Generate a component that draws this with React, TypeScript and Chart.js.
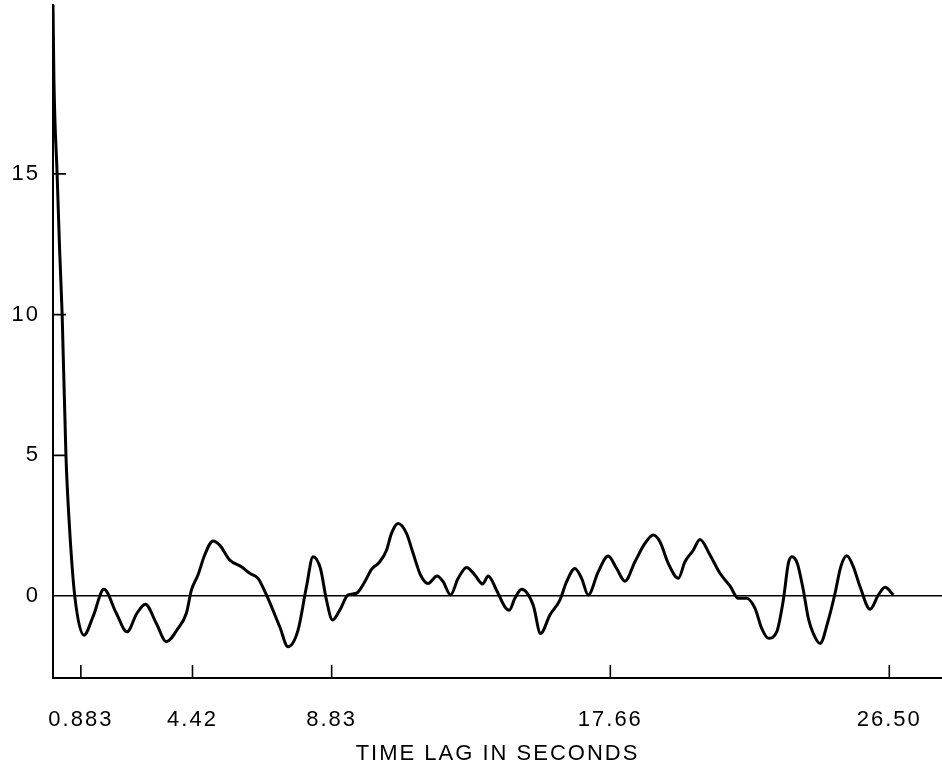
import React, { useEffect, useRef } from "react";
import { Chart, registerables } from "chart.js";

Chart.register(...registerables);

// Time lag in seconds (x) and autocorrelation value (y)
const lagSeconds = [
  0, 0.03, 0.13, 0.21, 0.29, 0.41, 0.52, 0.69, 0.98, 1.265, 1.614, 2.007, 2.343, 2.66, 2.926,
  3.275, 3.592, 3.96, 4.226, 4.385, 4.594, 4.807, 5.07, 5.282, 5.599, 5.97, 6.233, 6.497,
  6.763, 7.185, 7.448, 7.765, 8.031, 8.24, 8.475, 8.665, 8.856, 9.087, 9.35, 9.616, 9.88,
  10.092, 10.355, 10.568, 10.726, 10.935, 11.202, 11.411, 11.646, 11.887, 12.172, 12.362,
  12.597, 12.838, 13.104, 13.367, 13.611, 13.789, 14.055, 14.318, 14.455, 14.636, 14.848,
  15.216, 15.45, 15.745, 16.062, 16.275, 16.538, 16.75, 16.96, 17.276, 17.593, 17.86,
  18.123, 18.44, 18.757, 19.02, 19.233, 19.496, 19.813, 20.025, 20.288, 20.501, 20.818,
  21.135, 21.452, 21.715, 21.982, 22.245, 22.457, 22.667, 22.933, 23.142, 23.301, 23.409,
  23.586, 23.776, 23.935, 24.093, 24.306, 24.569, 24.781, 24.962, 25.152, 25.362, 25.574,
  25.891, 26.154, 26.366, 26.629,
];
const correlation = [
  21.0, 18.3, 15.0, 12.3, 10.0, 5.0, 2.5, 0.0, -1.39, -0.74, 0.24, -0.61, -1.27, -0.61, -0.29,
  -0.97, -1.62, -1.15, -0.61, 0.21, 0.75, 1.46, 1.96, 1.81, 1.28, 1.04, 0.81, 0.63,
  0.04, -1.09, -1.8, -1.21, 0.33, 1.4, 0.98, -0.14, -0.85, -0.5, 0.04, 0.1, 0.51,
  0.95, 1.22, 1.63, 2.23, 2.58, 2.23, 1.52, 0.75, 0.45, 0.71, 0.51,
  0.04, 0.63, 1.02, 0.75, 0.43, 0.71, 0.21, -0.38, -0.5, -0.08, 0.24,
  -0.32, -1.33, -0.67, -0.14, 0.51, 0.98, 0.63, 0.04, 0.86, 1.42, 0.98,
  0.53, 1.22, 1.87, 2.17, 1.93, 1.16, 0.63, 1.22, 1.63, 2.01, 1.46,
  0.81, 0.36, -0.08, -0.08, -0.44, -1.15, -1.5, -1.27, -0.14, 1.16, 1.4,
  1.16, 0.21, -0.79, -1.33, -1.68, -0.85, 0.1, 1.04, 1.43, 1.04, 0.33,
  -0.47, 0.04, 0.31, 0.04,
];

const xTickValues = [0.883, 4.42, 8.83, 17.66, 26.5];
const xTickLabels = ["0.883", "4.42", "8.83", "17.66", "26.50"];
const yTickValues = [0, 5, 10, 15];
const yTickLabels = ["0", "5", "10", "15"];
const xAxisTitle = "TIME LAG IN SECONDS";

const FONT = "'Liberation Sans', Arial, sans-serif";

const letterSpacingPlugin = {
  id: "letterSpacing",
  beforeDraw(chart: any) {
    chart.ctx.letterSpacing = "2px";
  },
};

const innerTicksPlugin = {
  id: "innerTicks",
  afterDatasetsDraw(chart: any) {
    const { ctx, chartArea, scales } = chart;
    ctx.save();
    ctx.strokeStyle = "#000";
    ctx.lineWidth = 1.6;
    ctx.beginPath();
    xTickValues.forEach((v) => {
      const px = scales.x.getPixelForValue(v);
      ctx.moveTo(px, chartArea.bottom);
      ctx.lineTo(px, chartArea.bottom - 13);
    });
    yTickValues.forEach((v) => {
      if (v === 0) return;
      const py = scales.y.getPixelForValue(v);
      ctx.moveTo(chartArea.left, py);
      ctx.lineTo(chartArea.left + 13, py);
    });
    ctx.stroke();
    ctx.restore();
  },
};

export default function App() {
  const canvasRef = useRef<HTMLCanvasElement | null>(null);

  useEffect(() => {
    if (!canvasRef.current) return;
    const chart = new Chart(canvasRef.current, {
      type: "line",
      data: {
        datasets: [
          {
            data: lagSeconds.map((x, i) => ({ x, y: correlation[i] })),
            borderColor: "#000",
            borderWidth: 3,
            pointRadius: 0,
            fill: false,
            cubicInterpolationMode: "monotone",
          },
        ],
      },
      options: {
        responsive: false,
        animation: false,
        layout: { padding: { top: 5, left: 0, right: 0, bottom: 0 } },
        plugins: { legend: { display: false }, tooltip: { enabled: false } },
        scales: {
          x: {
            type: "linear",
            min: 0,
            max: 28.17,
            afterBuildTicks: (s: any) => {
              s.ticks = xTickValues.map((v) => ({ value: v }));
            },
            afterFit: (s: any) => {
              s.height = 89;
              s.paddingLeft = 0;
              s.paddingRight = 0;
            },
            ticks: {
              autoSkip: false,
              maxRotation: 0,
              padding: 29,
              color: "#000",
              font: { family: FONT, size: 22 },
              callback: (v: any) => xTickLabels[xTickValues.indexOf(Number(v))] ?? "",
            },
            grid: { display: false, drawTicks: false },
            border: { display: true, color: "#000", width: 2 },
            title: {
              display: true,
              text: xAxisTitle,
              color: "#000",
              font: { family: FONT, size: 22 },
              padding: { top: 0, bottom: 0 },
            },
          },
          y: {
            type: "linear",
            min: -2.91,
            max: 21,
            afterBuildTicks: (s: any) => {
              s.ticks = yTickValues.map((v) => ({ value: v }));
            },
            afterFit: (s: any) => {
              s.width = 53;
              s.paddingTop = 0;
              s.paddingBottom = 0;
            },
            ticks: {
              padding: 13,
              color: "#000",
              font: { family: FONT, size: 22 },
              callback: (v: any) => yTickLabels[yTickValues.indexOf(Number(v))] ?? "",
            },
            grid: {
              drawTicks: false,
              lineWidth: 1.5,
              color: (ctx: any) =>
                ctx.tick && ctx.tick.value === 0 ? "#000" : "rgba(0,0,0,0)",
            },
            border: { display: true, color: "#000", width: 2 },
          },
        },
      },
      plugins: [letterSpacingPlugin, innerTicksPlugin],
    } as any);
    return () => chart.destroy();
  }, []);

  return (
    <div
      style={{
        position: "absolute",
        left: 0,
        top: 0,
        width: 942,
        height: 767,
        background: "#fff",
      }}
    >
      <canvas ref={canvasRef} width={942} height={767} style={{ display: "block" }} />
    </div>
  );
}
